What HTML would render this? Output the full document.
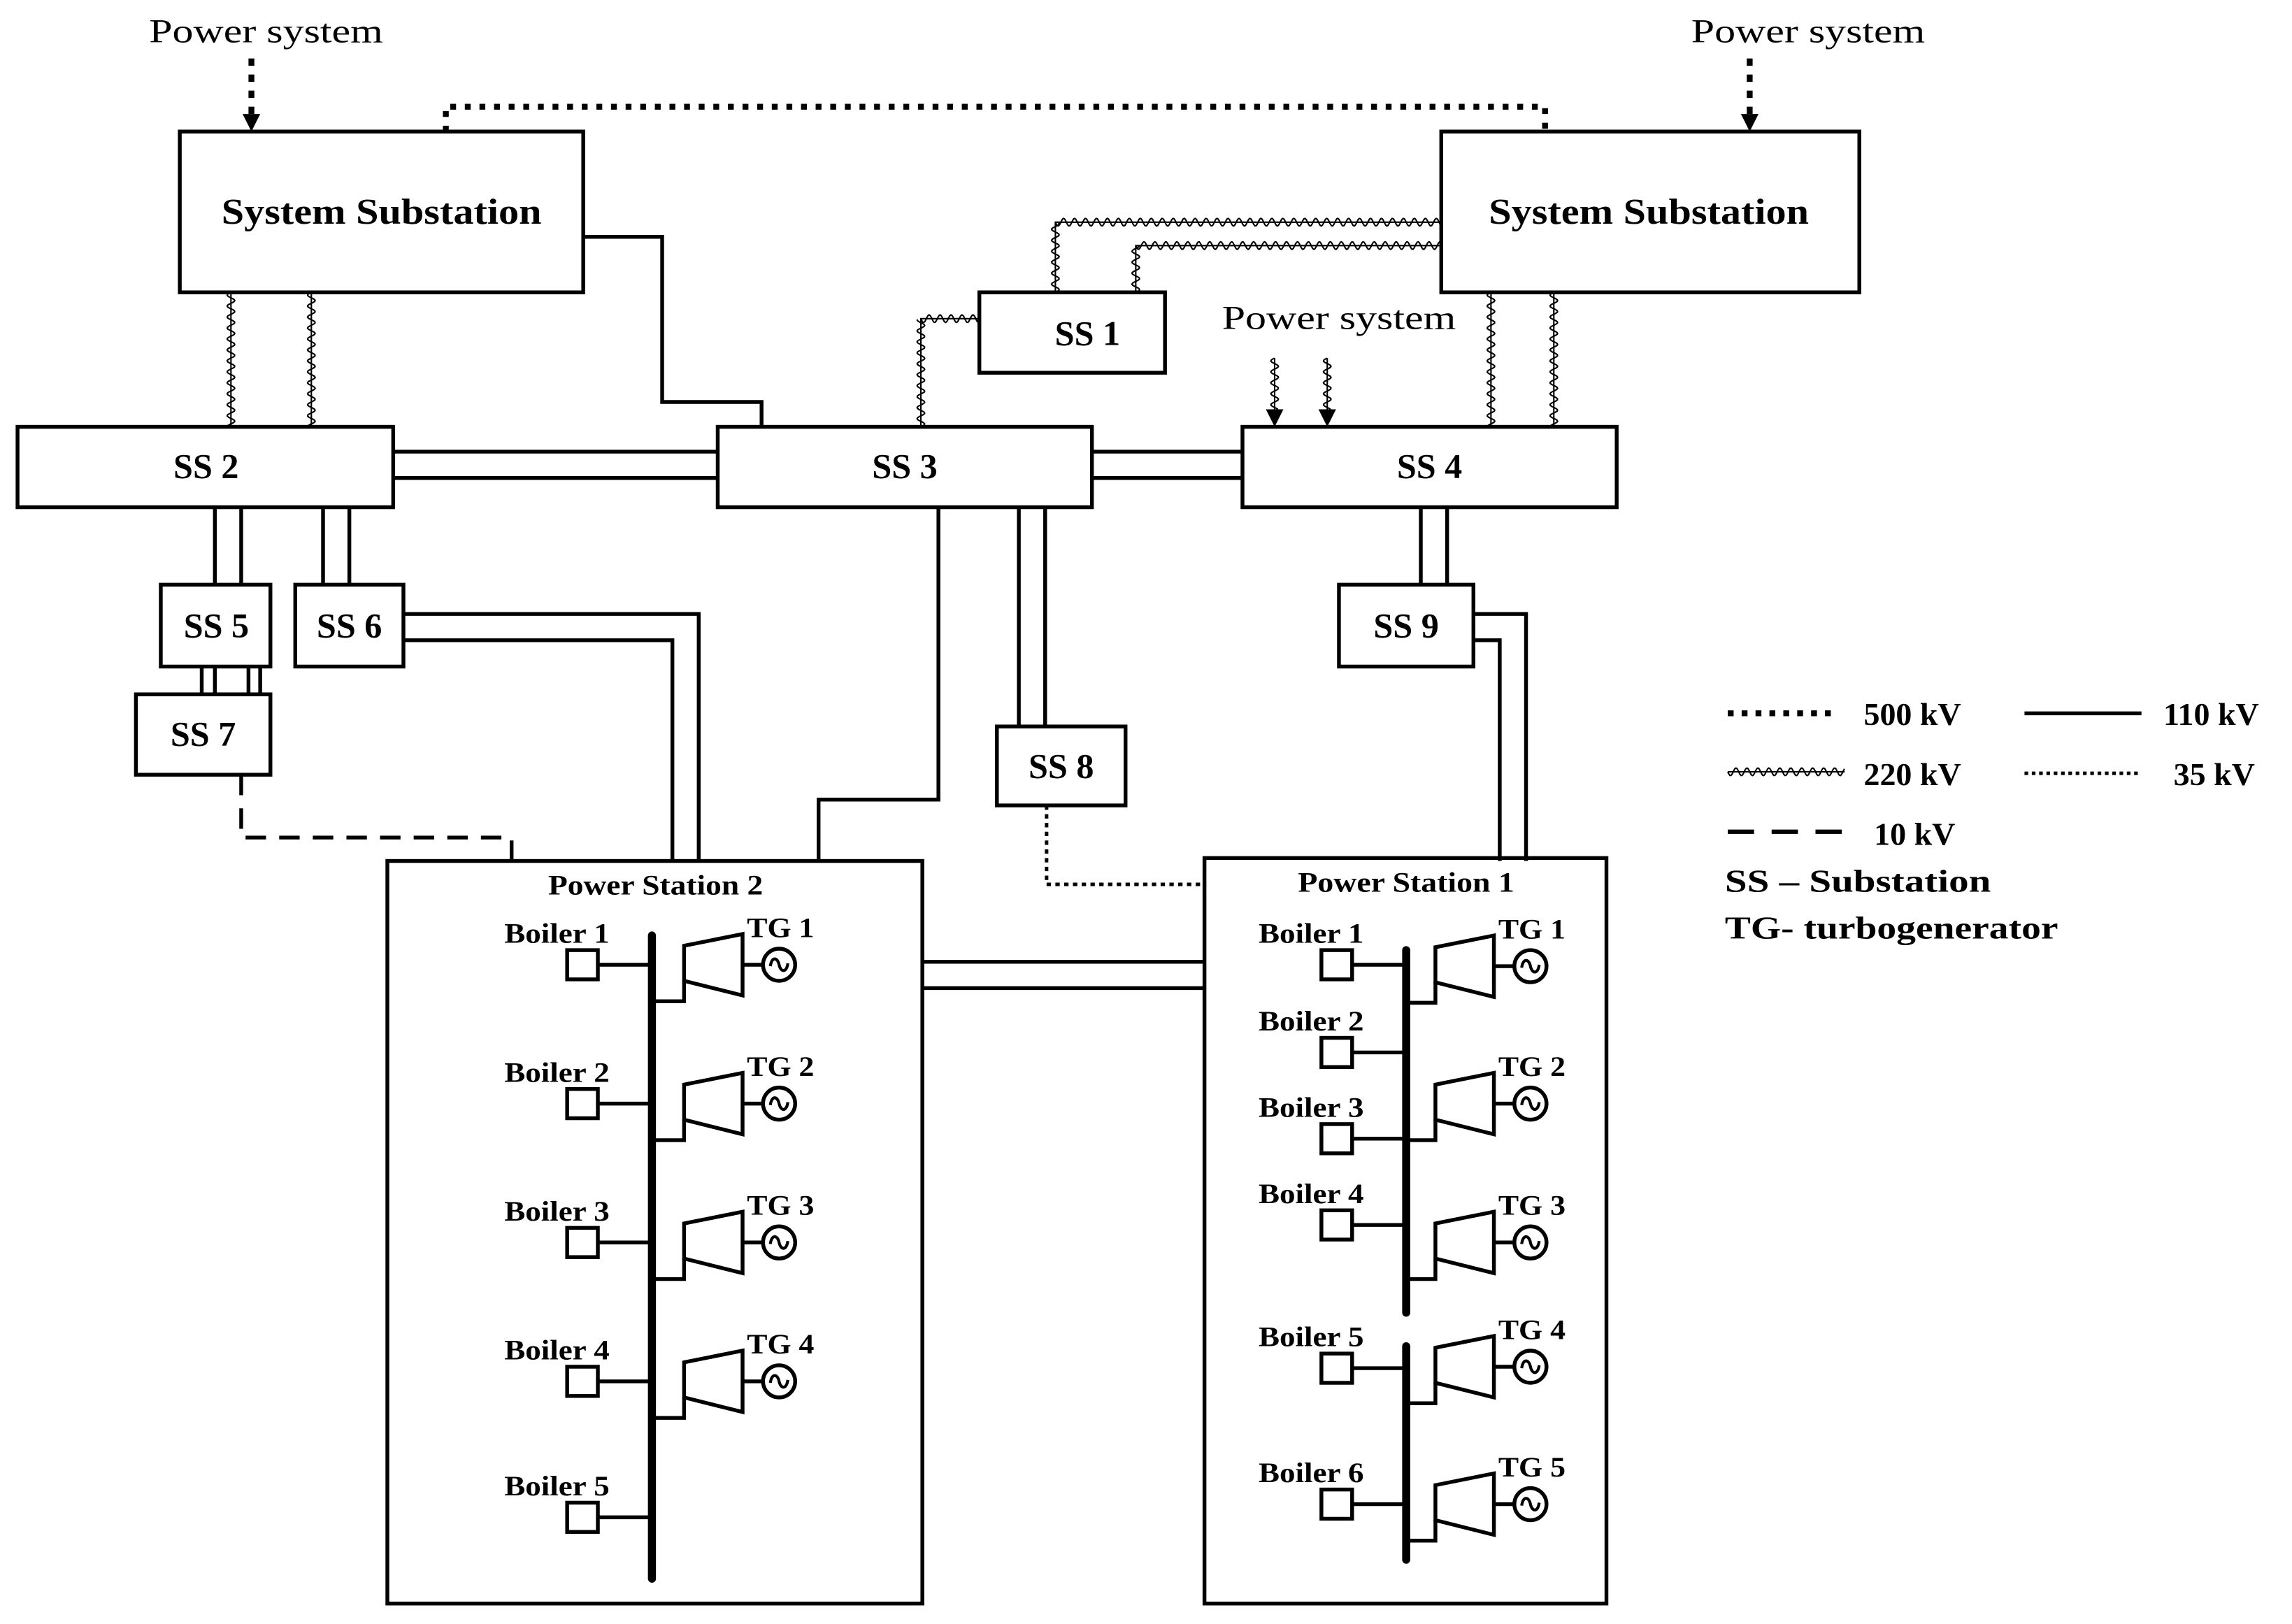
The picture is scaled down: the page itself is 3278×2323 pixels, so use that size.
<!DOCTYPE html>
<html><head><meta charset="utf-8"><style>
html,body{margin:0;padding:0;background:#fff;}
svg{display:block;}
text{font-family:"Liberation Serif",serif;fill:#000;}
.b{font-weight:bold;}
</style></head><body>
<svg id="s" width="3278" height="2323" viewBox="0 0 1568 1111" preserveAspectRatio="none" xmlns="http://www.w3.org/2000/svg">
<g fill="none" stroke="#000" stroke-width="2.6" stroke-linejoin="miter">
<rect x="123" y="90" width="276" height="110"/>
<rect x="986" y="90" width="286" height="110"/>
<rect x="670" y="200" width="127" height="55"/>
<rect x="12" y="292" width="257" height="55"/>
<rect x="491" y="292" width="256" height="55"/>
<rect x="850" y="292" width="256" height="55"/>
<rect x="110" y="400" width="75" height="56"/>
<rect x="202" y="400" width="74" height="56"/>
<rect x="93" y="475" width="92" height="55"/>
<rect x="682" y="497" width="88" height="54"/>
<rect x="916" y="400" width="92" height="56"/>
<rect x="265" y="589" width="366" height="508"/>
<rect x="824" y="587" width="275" height="510"/>
<path d="M399 162 H453 V275 H521 V292"/>
<path d="M269 309 H491 M269 327 H491"/>
<path d="M747 309 H850 M747 327 H850"/>
<path d="M642 347 V547 H560 V589"/>
<path d="M697 347 V497 M715 347 V497"/>
<path d="M147 347 V400 M165 347 V400"/>
<path d="M221 347 V400 M239 347 V400"/>
<path d="M138 456 V475 M147 456 V475 M170 456 V475 M178 456 V475"/>
<path d="M276 420 H478 V589 M276 438 H460 V589"/>
<path d="M972 347 V400 M990 347 V400"/>
<path d="M1008 420 H1044 V589 M1008 438 H1026 V589"/>
<path d="M631 658 H824 M631 676 H824"/>
<path d="M305 90 V73 H1057 V90" stroke-width="4" stroke-dasharray="4 6"/>
<path d="M172 40 V78" stroke-width="4" stroke-dasharray="5 6"/>
<path d="M1197 40 V78" stroke-width="4" stroke-dasharray="5 6"/>
<path d="M716 551 V605 H824" stroke-width="2.4" stroke-dasharray="3 3"/>
<path d="M165 530 V573 H350 V589" stroke-width="2.6" stroke-dasharray="14 9"/>
<path d="M1182 488 H1258" stroke-width="4" stroke-dasharray="4 5.5"/>
<path d="M1385 488 H1465"/>
<path d="M1385 529 H1465" stroke-width="2.4" stroke-dasharray="2.5 2.5"/>
<path d="M1182 569 H1265" stroke-width="3" stroke-dasharray="18 12"/>
</g>
<g id="wav" fill="none" stroke="#000" stroke-width="1"></g>
<g fill="#000">
<polygon points="166,78 178,78 172,90"/>
<polygon points="1191,78 1203,78 1197,90"/>
<polygon points="866,280 878,280 872,292"/>
<polygon points="902,280 914,280 908,292"/>
</g>
<g id="ps" fill="none" stroke="#000" stroke-width="2.6"></g>
<text x="261" y="153" font-size="25" text-anchor="middle" class="b" textLength="219" lengthAdjust="spacingAndGlyphs">System Substation</text>
<text x="1128" y="153" font-size="25" text-anchor="middle" class="b" textLength="219" lengthAdjust="spacingAndGlyphs">System Substation</text>
<text x="182" y="29" font-size="23" text-anchor="middle" textLength="160" lengthAdjust="spacingAndGlyphs">Power system</text>
<text x="1237" y="29" font-size="23" text-anchor="middle" textLength="160" lengthAdjust="spacingAndGlyphs">Power system</text>
<text x="916" y="225" font-size="23" text-anchor="middle" textLength="160" lengthAdjust="spacingAndGlyphs">Power system</text>
<g font-size="24" text-anchor="middle" class="b">
<text x="744" y="236">SS 1</text>
<text x="141" y="327">SS 2</text>
<text x="619" y="327">SS 3</text>
<text x="978" y="327">SS 4</text>
<text x="148" y="436">SS 5</text>
<text x="239" y="436">SS 6</text>
<text x="139" y="510">SS 7</text>
<text x="726" y="532">SS 8</text>
<text x="962" y="436">SS 9</text>
</g>
<text x="375" y="612" font-size="19" class="b" textLength="147" lengthAdjust="spacingAndGlyphs">Power Station 2</text>
<text x="888" y="610" font-size="19" class="b" textLength="148" lengthAdjust="spacingAndGlyphs">Power Station 1</text>
<g font-size="22" class="b">
<text x="1275" y="496">500 kV</text>
<text x="1480" y="496">110 kV</text>
<text x="1275" y="537">220 kV</text>
<text x="1487" y="537">35 kV</text>
<text x="1282" y="578">10 kV</text>
<text x="1180" y="610" textLength="182" lengthAdjust="spacingAndGlyphs">SS – Substation</text>
<text x="1180" y="642" textLength="228" lengthAdjust="spacingAndGlyphs">TG- turbogenerator</text>
</g>
<g id="pt" font-size="19" class="b"></g>
</svg>
<script>
var NS="http://www.w3.org/2000/svg";
function el(p,t,a,txt){var e=document.createElementNS(NS,t);for(var k in a)e.setAttribute(k,a[k]);if(txt)e.textContent=txt;document.getElementById(p).appendChild(e);return e;}
function wave(pts){
  var d="M"+pts[0][0]+" "+pts[0][1];for(var i=1;i<pts.length;i++)d+=" L"+pts[i][0]+" "+pts[i][1];
  el("wav","path",{d:d});
  var w="";
  for(var i=1;i<pts.length;i++){
    var x1=pts[i-1][0],y1=pts[i-1][1],x2=pts[i][0],y2=pts[i][1];
    var L=Math.hypot(x2-x1,y2-y1),ux=(x2-x1)/L,uy=(y2-y1)/L,nx=-uy,ny=ux;
    for(var t=0;t<=L;t+=0.7){var a=2.6*Math.sin(t/7.5*2*Math.PI);
      var x=x1+ux*t+nx*a,y=y1+uy*t+ny*a;w+=(w&&t>0?" L":" M")+x.toFixed(2)+" "+y.toFixed(2);}
  }
  el("wav","path",{d:w});
}
wave([[158,200],[158,292]]);wave([[213,200],[213,292]]);
wave([[1020,200],[1020,292]]);wave([[1063,200],[1063,292]]);
wave([[722,200],[722,152],[986,152]]);wave([[777,200],[777,168],[986,168]]);
wave([[630,292],[630,218],[670,218]]);
wave([[872,245],[872,280]]);wave([[908,245],[908,280]]);
wave([[1182,528],[1262,528]]);
function tg(bx,cx,cy,label){
  el("ps","path",{d:"M"+bx+" "+(cy+25)+" H"+(cx-65)+" V"+(cy+11)});
  el("ps","path",{d:"M"+(cx-65)+" "+(cy-13)+" L"+(cx-25)+" "+(cy-21)+" V"+(cy+21)+" L"+(cx-65)+" "+(cy+11)+" Z"});
  el("ps","path",{d:"M"+(cx-25)+" "+cy+" H"+(cx-12)});
  el("ps","circle",{cx:cx,cy:cy,r:11});
  el("ps","path",{d:"M"+(cx-6)+" "+(cy+1)+" C"+(cx-5)+" "+(cy-6)+" "+(cx-1)+" "+(cy-5)+" "+cx+" "+cy+" S"+(cx+5)+" "+(cy+6)+" "+(cx+6)+" "+(cy-1),"stroke-width":2});
  el("pt","text",{x:cx-22,y:cy-19,textLength:46,lengthAdjust:"spacingAndGlyphs"},label);
}
function boiler(bx,x,cy,label){
  el("ps","rect",{x:x,y:cy-10,width:21,height:20});
  el("ps","path",{d:"M"+(x+21)+" "+cy+" H"+bx});
  el("pt","text",{x:x-43,y:cy-15,textLength:72,lengthAdjust:"spacingAndGlyphs"},label);
}
el("ps","path",{d:"M446 640 V1080","stroke-width":5.5,"stroke-linecap":"round"});
[660,755,850,945].forEach(function(y,i){tg(446,533,y,"TG "+(i+1));});
[660,755,850,945,1038].forEach(function(y,i){boiler(446,388,y,"Boiler "+(i+1));});
el("ps","path",{d:"M962 650 V898 M962 921 V1067","stroke-width":5.5,"stroke-linecap":"round"});
[661,755,850,935,1029].forEach(function(y,i){tg(962,1047,y,"TG "+(i+1));});
[660,720,779,838,936,1029].forEach(function(y,i){boiler(962,904,y,"Boiler "+(i+1));});
</script>
</body></html>
